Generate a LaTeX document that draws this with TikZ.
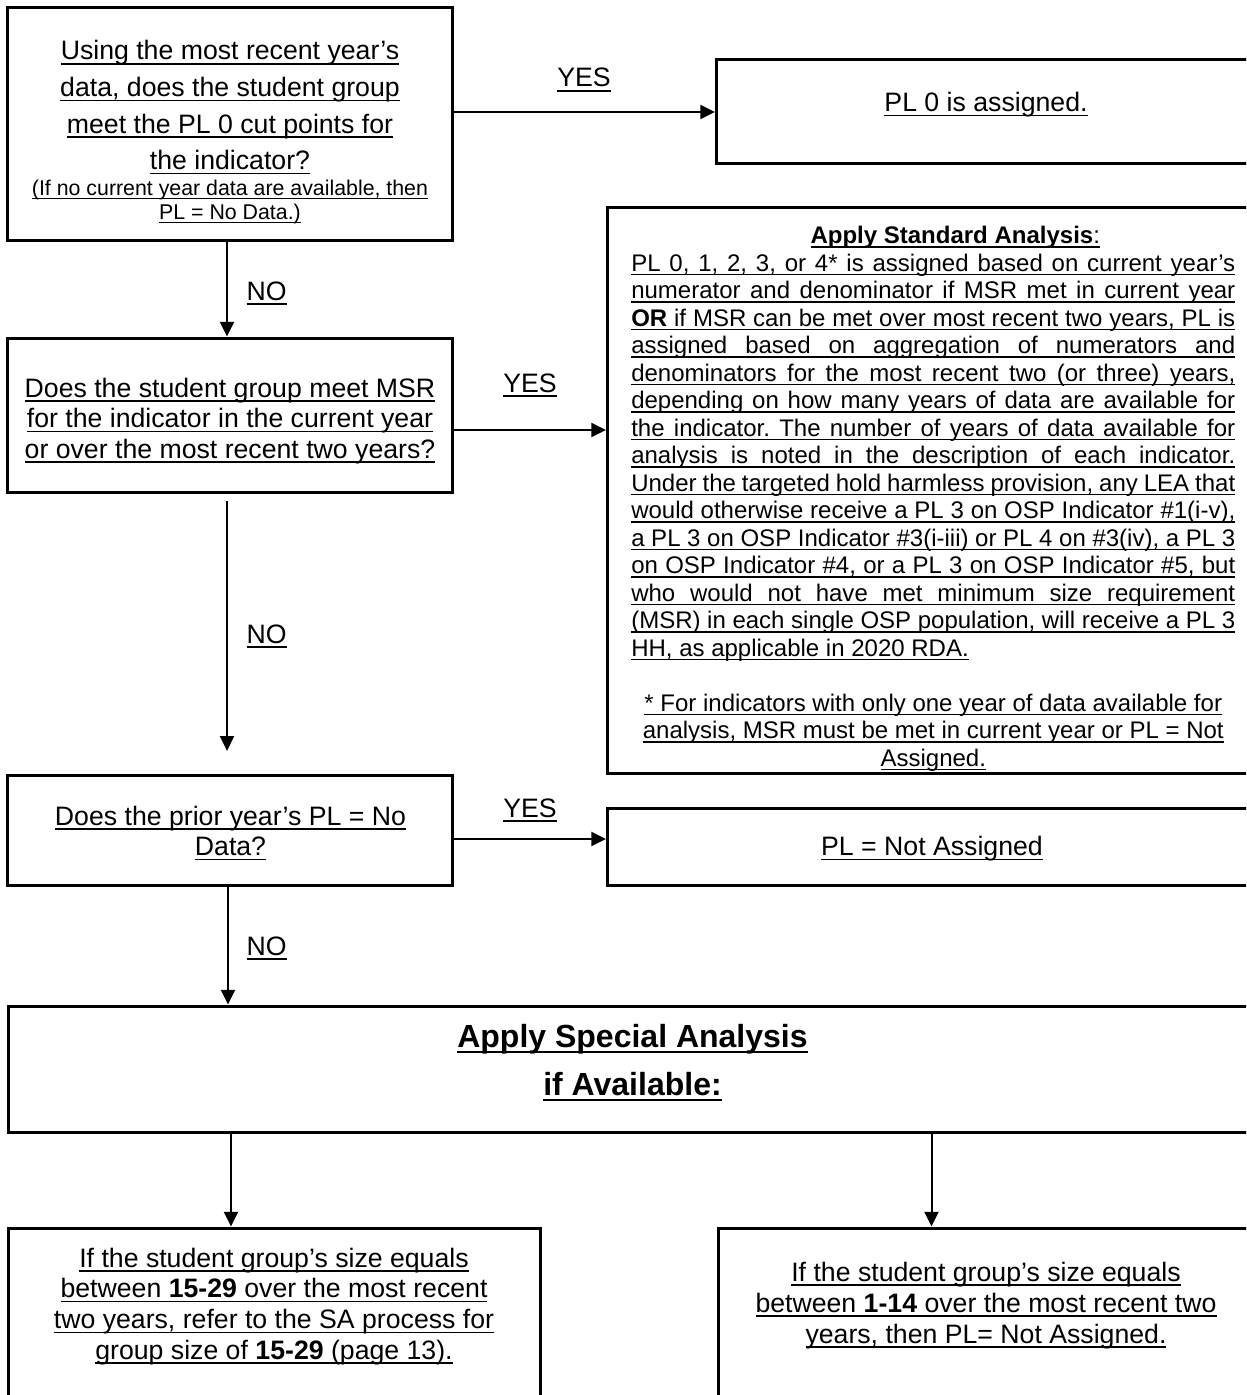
\documentclass[tikz,border=0pt]{standalone}
\usepackage{fontspec}
\setmainfont{Liberation Sans}
\usetikzlibrary{arrows.meta,fit}
\frenchspacing
\newcommand\ulx[1]{\leavevmode\setbox0=\hbox{#1}\rlap{\rule[-0.18em]{\wd0}{0.06em}}\box0}
\newcommand\jl[1]{\ulx{\makebox[453pt][s]{#1}}}
\tikzset{
  box/.style={draw, line width=2.25pt, inner sep=0pt},
  arr/.style={line width=1.5pt, -{Triangle[length=11pt,width=10.5pt]}},
  txt/.style={inner sep=0pt, anchor=base},
  lbl/.style={inner sep=0pt, anchor=base, font=\fontsize{20pt}{24pt}\selectfont},
}
\begin{document}
\begin{tikzpicture}[x=0.75pt,y=-0.75pt]
\useasboundingbox (0,0) rectangle (1246,1395);
\fill[white] (0,0) rectangle (1246,1395);
\clip (0,0) rectangle (1246,1395);

% boxes
\node[box, fit={(7.5,7.5) (452,240.5)}] (b1) {};
\node[box, fit={(716.5,59.5) (1258,163.5)}] (pl0) {};
\node[box, fit={(607.5,207) (1258,773.5)}] (std) {};
\node[box, fit={(7.5,338) (452,492.5)}] (b2) {};
\node[box, fit={(7.5,775) (452,885)}] (b3) {};
\node[box, fit={(607.5,808) (1258,885)}] (na) {};
\node[box, fit={(8.5,1006) (1258,1132)}] (sp) {};
\node[box, fit={(8.5,1228) (540,1410)}] (bl) {};
\node[box, fit={(718,1228) (1258,1410)}] (br) {};

% texts
\node[txt] (t-b1) at (230,60) {\parbox[t]{330pt}{\centering\fontsize{20pt}{27.4pt}\selectfont
  \ulx{Using the most recent year’s}\\
  \ulx{data, does the student group}\\
  \ulx{meet the PL 0 cut points for}\\
  \ulx{the indicator?}}};
\node[txt] (t-b1note) at (230,195) {\parbox[t]{330pt}{\centering\fontsize{16pt}{18pt}\selectfont
  \ulx{(If no current year data are available, then}\\
  \ulx{PL = No Data.)}}};
\node[txt] (t-pl0) at (986,111.5) {\fontsize{20pt}{24pt}\selectfont\ulx{PL 0 is assigned.}};
\node[txt, anchor=base west] (t-std) at (631,243.5) {\parbox[t]{453pt}{\fontsize{18pt}{20.625pt}\selectfont\centering
  \hspace*{33pt}\ulx{\textbf{Apply Standard Analysis}:}\\
  \jl{PL 0, 1, 2, 3, or 4* is assigned based on current year’s}\\
  \jl{numerator and denominator if MSR met in current year}\\
  \jl{\textbf{OR} if MSR can be met over most recent two years, PL is}\\
  \jl{assigned based on aggregation of numerators and}\\
  \jl{denominators for the most recent two (or three) years,}\\
  \jl{depending on how many years of data are available for}\\
  \jl{the indicator. The number of years of data available for}\\
  \jl{analysis is noted in the description of each indicator.}\\
  \jl{Under the targeted hold harmless provision, any LEA that}\\
  \jl{would otherwise receive a PL 3 on OSP Indicator \#1(i-v),}\\
  \jl{a PL 3 on OSP Indicator \#3(i-iii) or PL 4 on \#3(iv), a PL 3}\\
  \jl{on OSP Indicator \#4, or a PL 3 on OSP Indicator \#5, but}\\
  \jl{who would not have met minimum size requirement}\\
  \jl{(MSR) in each single OSP population, will receive a PL 3}\\
  \makebox[453pt][l]{\ulx{HH, as applicable in 2020 RDA.}}\\
  \mbox{}\\
  \ulx{* For indicators with only one year of data available for}\\
  \ulx{analysis, MSR must be met in current year or PL = Not}\\
  \ulx{Assigned.}}};
\node[txt] (t-b2) at (230,397) {\parbox[t]{330pt}{\centering\fontsize{20pt}{22.9pt}\selectfont
  \ulx{Does the student group meet MSR}\\
  \ulx{for the indicator in the current year}\\
  \ulx{or over the most recent two years?}}};
\node[txt] (t-b3) at (230.5,825) {\parbox[t]{330pt}{\centering\fontsize{20pt}{22.9pt}\selectfont
  \ulx{Does the prior year’s PL = No}\\
  \ulx{Data?}}};
\node[txt] (t-na) at (932,855.5) {\fontsize{20pt}{24pt}\selectfont\ulx{PL = Not Assigned}};
\node[txt] (t-sp) at (632.5,1047) {\parbox[t]{500pt}{\centering\fontsize{24pt}{36pt}\selectfont\bfseries
  \ulx{Apply Special Analysis}\\
  \ulx{if Available:}}};
\node[txt] (t-bl) at (274,1267) {\parbox[t]{390pt}{\centering\fontsize{20pt}{23pt}\selectfont
  \ulx{If the student group’s size equals}\\
  \ulx{between \textbf{15-29} over the most recent}\\
  \ulx{two years, refer to the SA process for}\\
  \ulx{group size of \textbf{15-29} (page 13).}}};
\node[txt] (t-br) at (986,1281) {\parbox[t]{390pt}{\centering\fontsize{20pt}{23.25pt}\selectfont
  \ulx{If the student group’s size equals}\\
  \ulx{between \textbf{1-14} over the most recent two}\\
  \ulx{years, then PL= Not Assigned.}}};

% labels
\node[lbl] (yes1) at (584,87) {\ulx{YES}};
\node[lbl] (yes2) at (530,392) {\ulx{YES}};
\node[lbl] (yes3) at (530,817) {\ulx{YES}};
\node[lbl] (no1) at (266.5,300) {\ulx{NO}};
\node[lbl] (no2) at (266.5,643) {\ulx{NO}};
\node[lbl] (no3) at (266.5,955) {\ulx{NO}};

% helper coordinates
\coordinate (ax) at (227,0);
\coordinate (ax3) at (228,0);
\coordinate (ay1) at (0,112);
\coordinate (ay2) at (0,430);
\coordinate (ay3) at (0,839);
\coordinate (bx1) at (231,0);
\coordinate (bx2) at (931.5,0);

% connectors
\draw[arr] (b1.east |- ay1) -- (pl0.west |- ay1);
\draw[arr] (b1.south -| ax) -- (b2.north -| ax);
\draw[arr] (b2.east |- ay2) -- (std.west |- ay2);
\draw[arr, shorten <=5.25pt, shorten >=17pt] (b2.south -| ax) -- (b3.north -| ax);
\draw[arr] (b3.east |- ay3) -- (na.west |- ay3);
\draw[arr] (b3.south -| ax3) -- (sp.north -| ax3);
\draw[arr] (sp.south -| bx1) -- (bl.north -| bx1);
\draw[arr] (sp.south -| bx2) -- (br.north -| bx2);
\end{tikzpicture}
\end{document}
